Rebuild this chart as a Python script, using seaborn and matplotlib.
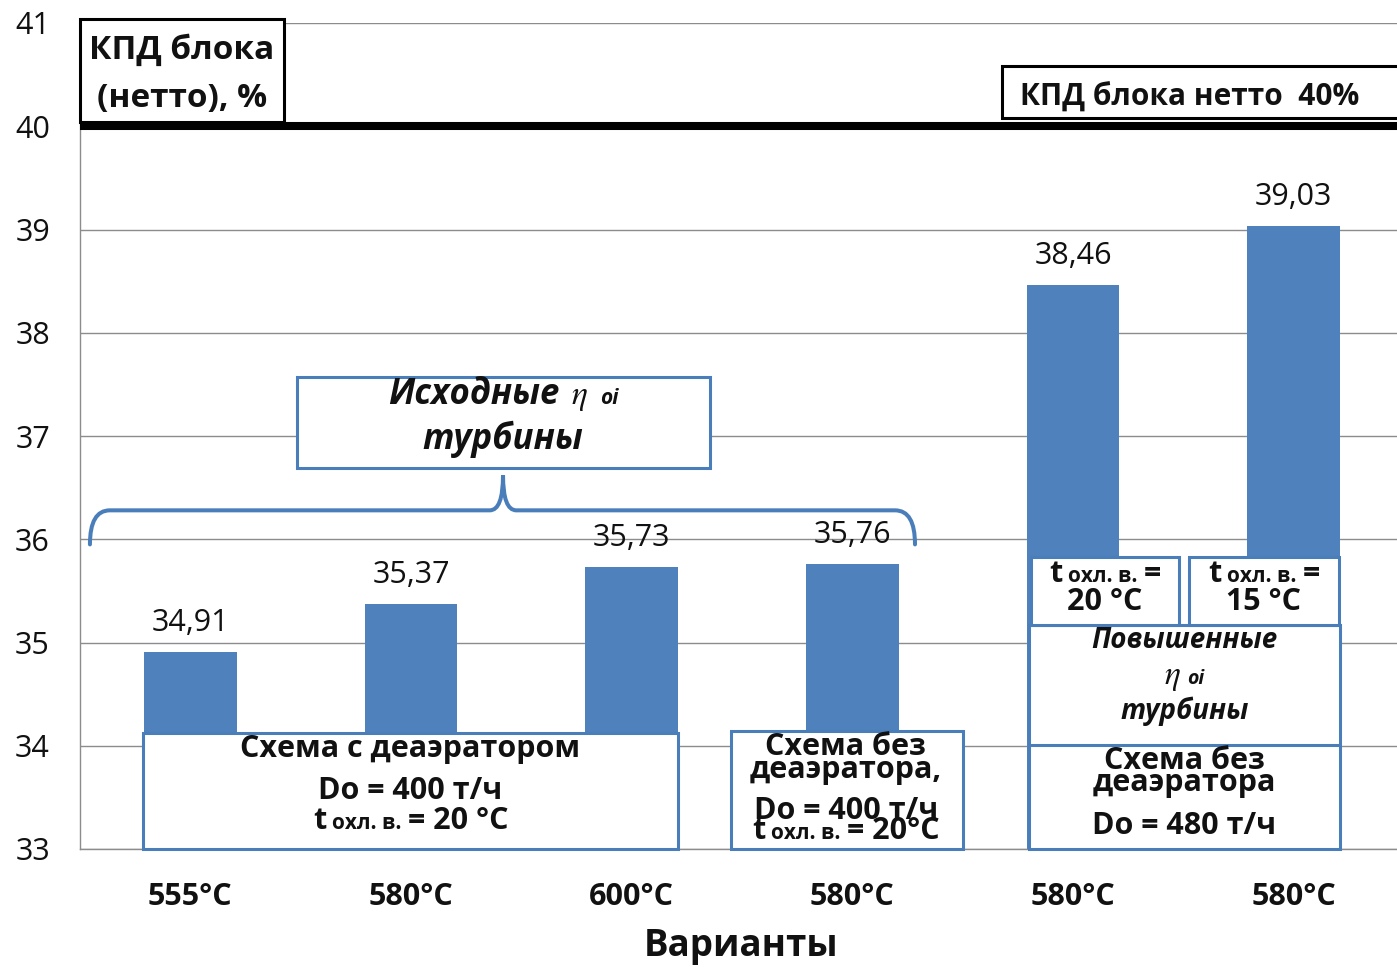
import numpy as np
import pandas as pd
import matplotlib
matplotlib.use("Agg")
import matplotlib.pyplot as plt
import seaborn as sns
from matplotlib.patches import Rectangle, PathPatch
from matplotlib.path import Path
from matplotlib.transforms import offset_copy

# Data
variants = ["555°C", "580°C", "600°C", "580°C", "580°C", "580°C"]
efficiency = [34.91, 35.37, 35.73, 35.76, 38.46, 39.03]
y_ticks = [33, 34, 35, 36, 37, 38, 39, 40, 41]
target_level = 40

BLUE = "#4F81BD"
EDGE = "#4A7EBB"
GRID = "#8C8C8C"
INK = "#111111"

sns.set_style("white")
plt.rcParams["font.family"] = ["Open Sans", "DejaVu Sans"]
plt.rcParams["mathtext.fontset"] = "stix"

fig = plt.figure(figsize=(13.97, 9.67), dpi=100)
ax = fig.add_axes([80 / 1397, 118 / 967, 1324 / 1397, 826 / 967])

df = pd.DataFrame({"slot": [str(i) for i in range(len(variants))], "value": efficiency})
sns.barplot(data=df, x="slot", y="value", color=BLUE, saturation=1, width=0.42,
            linewidth=0, ax=ax, zorder=2)

ax.set_xlim(-0.5, 5.5)
ax.set_ylim(33, 41)
ax.set_axisbelow(True)
ax.set_xlabel("")
ax.set_ylabel("")

# Axes styling
ax.set_yticks(y_ticks)
ax.set_yticklabels([str(t) for t in y_ticks])
ax.tick_params(axis="y", length=8.6, width=1, color=GRID, pad=13, labelsize=22, labelcolor=INK)
ax.yaxis.grid(True, color=GRID, lw=1)
ax.xaxis.grid(False)
ax.set_xticks(range(len(variants)))
ax.set_xticklabels(variants, fontweight="bold", fontsize=22, color=INK)
ax.tick_params(axis="x", which="major", length=0, pad=24)
ax.set_xticks(np.arange(-0.5, len(variants), 1), minor=True)
ax.tick_params(axis="x", which="minor", length=6, width=1, color=GRID)
for side in ["top", "right"]:
    ax.spines[side].set_visible(False)
for side in ["left", "bottom"]:
    ax.spines[side].set_color(GRID)
    ax.spines[side].set_linewidth(1)

fig.text(741 / 1397, 1 - 946 / 967, "Варианты", ha="center", va="center",
         fontsize=26.5, fontweight="bold", color=INK)

# Value labels
for i, v in enumerate(efficiency):
    ax.annotate(f"{v:.2f}".replace(".", ","), xy=(i, v), xytext=(0, 21),
                textcoords="offset points", ha="center", va="center",
                fontsize=22, color=INK)

# Net efficiency target line
ax.axhline(target_level, color="black", lw=5.8, zorder=3)


def box(x0, y0, x1, y1, edge=EDGE, lw=2.2):
    ax.add_patch(Rectangle((x0, y0), x1 - x0, y1 - y0, facecolor="white",
                           edgecolor=edge, lw=lw, zorder=5, clip_on=False))


def line(x, y, s, size=22, weight="bold", style="normal", ha="center"):
    ax.text(x, y, s, ha=ha, va="baseline", fontsize=size, fontweight=weight,
            fontstyle=style, color=INK, zorder=6, clip_on=False)


def rich(x, y, pieces, gap=6):
    """Draw a horizontally centered run of differently styled pieces on one baseline."""
    renderer = fig.canvas.get_renderer()
    arts, widths = [], []
    for s, kw in pieces:
        t = ax.text(x, y, s, ha="left", va="baseline", color=INK, zorder=6, **kw)
        arts.append(t)
        widths.append(t.get_window_extent(renderer).width)
    total = sum(widths) + gap * (len(arts) - 1)
    start = -total / 2
    for t, w in zip(arts, widths):
        t.set_transform(offset_copy(ax.transData, fig=fig, x=start, y=0, units="dots"))
        start += w + gap


B22 = dict(fontsize=22, fontweight="bold")
SUB = dict(fontsize=15, fontweight="bold")
ETA = dict(fontsize=24)


def t_cool(x, y, value):
    rich(x, y, [("t", B22), ("охл. в.", SUB), (value, B22)])


# Legend-like boxes at the top
box(-0.5, 40.04, 0.425, 41.04, edge="black")
line(-0.0375, 40.65, "КПД блока", size=24)
line(-0.0375, 40.19, "(нетто), %", size=24)

box(3.68, 40.08, 5.7, 40.583, edge="black")
line(3.76, 40.20, "КПД блока нетто  40%", size=21.5, ha="left")

# Brace over the first four variants
xl, xr, xm = -0.455, 3.284, 1.417
yb, ye, yt = 36.28, 35.95, 36.62
verts = [(xl, ye), (xl, yb), (xl + 0.09, yb), (xm - 0.06, yb),
         (xm, yb), (xm, yt), (xm, yb), (xm + 0.06, yb),
         (xr - 0.09, yb), (xr, yb), (xr, ye)]
codes = [Path.MOVETO, Path.CURVE3, Path.CURVE3, Path.LINETO,
         Path.CURVE3, Path.CURVE3, Path.CURVE3, Path.CURVE3,
         Path.LINETO, Path.CURVE3, Path.CURVE3]
ax.add_patch(PathPatch(Path(verts, codes), facecolor="none", edgecolor=EDGE,
                       lw=2.9, zorder=5, capstyle="round"))

box(0.484, 36.69, 2.356, 37.57)
rich(1.417, 37.31, [("Исходные", dict(fontsize=25, fontweight="bold", fontstyle="italic")),
                    (r"$\eta$", ETA),
                    ("oi", dict(fontsize=15, fontweight="bold", fontstyle="italic"))],
     gap=12)
line(1.417, 36.87, "турбины", size=25, style="italic")

# Scheme boxes at the bottom
box(-0.214, 33.0, 2.21, 34.12)
line(0.998, 33.89, "Схема с деаэратором")
line(0.998, 33.48, "Do = 400 т/ч")
t_cool(0.998, 33.19, "= 20 °C")

box(2.45, 33.0, 3.50, 34.14)
line(2.97, 33.91, "Схема без")
line(2.97, 33.69, "деаэратора,")
line(2.97, 33.29, "Do = 400 т/ч")
t_cool(2.97, 33.10, "= 20°C")

box(3.80, 33.0, 5.21, 35.17)
ax.plot([3.80, 5.21], [34.01, 34.01], color=EDGE, lw=2.2, zorder=5)
box(3.81, 35.17, 4.48, 35.83)
box(4.525, 35.17, 5.205, 35.83)
rich(4.145, 35.59, [("t", B22), ("охл. в.", SUB), ("=", B22)])
line(4.145, 35.31, "20 °C")
rich(4.865, 35.59, [("t", B22), ("охл. в.", SUB), ("=", B22)])
line(4.865, 35.31, "15 °C")
line(4.504, 34.95, "Повышенные", size=20, style="italic")
rich(4.504, 34.60, [(r"$\eta$", ETA), ("oi", dict(fontsize=14, fontweight="bold", fontstyle="italic"))])
line(4.504, 34.26, "турбины", size=20, style="italic")
line(4.504, 33.77, "Схема без")
line(4.504, 33.56, "деаэратора")
line(4.504, 33.15, "Do = 480 т/ч")

fig.savefig("out.png", dpi=100, facecolor="white")
